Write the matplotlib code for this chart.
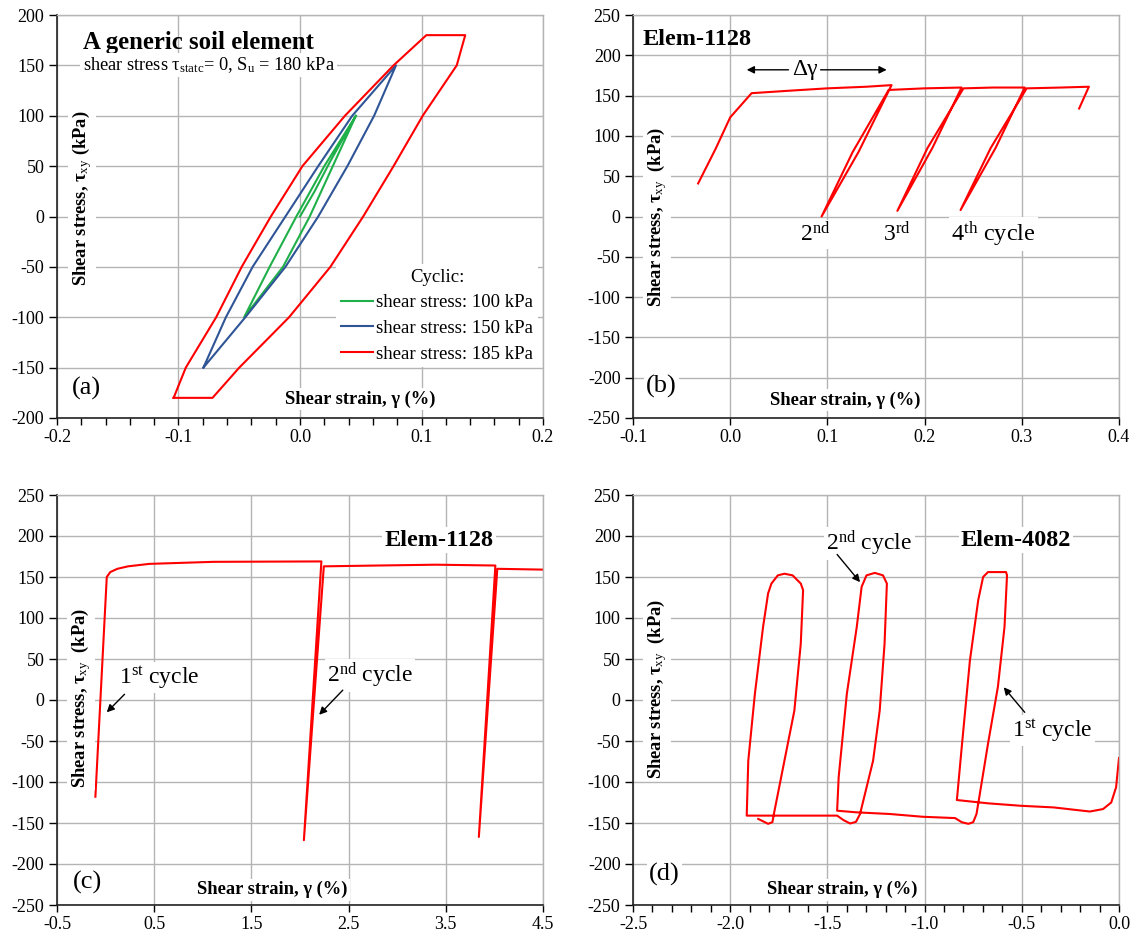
import matplotlib
matplotlib.use('Agg')
import matplotlib.pyplot as plt
from matplotlib.ticker import MultipleLocator, FormatStrFormatter

plt.rcParams['font.family'] = ['Liberation Serif', 'DejaVu Serif']
plt.rcParams['mathtext.fontset'] = 'custom'
plt.rcParams['mathtext.rm'] = 'Liberation Serif'
plt.rcParams['mathtext.it'] = 'Liberation Serif:italic'
plt.rcParams['mathtext.bf'] = 'Liberation Serif:bold'
plt.rcParams['axes.unicode_minus'] = False

# (a) generic soil element, three cyclic amplitudes
loop100_x = [0.0, 0.012, 0.025, 0.046, 0.027, 0.008, -0.014, -0.046, -0.025, -0.003, 0.02, 0.046]
loop100_y = [0, 25, 55, 100, 50, 0, -50, -100, -50, 0, 50, 100]
loop150_x = [-0.0795, -0.061, -0.039, -0.012, 0.015, 0.043, 0.079, 0.061, 0.039, 0.015, -0.012, -0.045, -0.0795]
loop150_y = [-150, -100, -50, 0, 50, 100, 150, 100, 50, 0, -50, -100, -150]
loop185_x = [-0.104, -0.094, -0.069, -0.048, -0.024, 0.002, 0.037, 0.077, 0.104, 0.136,
             0.129, 0.101, 0.077, 0.052, 0.025, -0.009, -0.050, -0.072, -0.104]
loop185_y = [-180, -150, -100, -50, 0, 50, 100, 150, 180, 180,
             150, 100, 50, 0, -50, -100, -150, -180, -180]
legend_labels = ['shear stress: 100 kPa', 'shear stress: 150 kPa', 'shear stress: 185 kPa']

# (b) Elem-1128, small strains
b_x = [-0.033, -0.015, 0.0, 0.022, 0.06, 0.10, 0.14, 0.166, 0.132, 0.094, 0.126, 0.163,
       0.20, 0.238, 0.208, 0.172, 0.203, 0.240, 0.27, 0.303, 0.273, 0.237, 0.268, 0.305,
       0.34, 0.369, 0.359]
b_y = [41, 84, 123, 153, 156, 159, 161, 163, 80, 0, 80, 157,
       159, 160, 85, 7, 85, 159, 160, 160, 85, 8, 85, 159,
       160, 161, 134]

# (c) Elem-1128, large strains
c_x = [-0.105, 0.012, 0.048, 0.121, 0.231, 0.45, 1.11, 2.22, 2.04, 2.245, 2.8, 3.4, 4.01, 3.84, 4.03, 4.5]
c_y = [-118, 150, 156, 160, 163, 166, 168.5, 169, -171, 163, 164, 165, 164, -167, 160, 159]
c_xticks = [-0.5, 0.5, 1.5, 2.5, 3.5, 4.5]

# (d) Elem-4082
d_x = [0.0, -0.015, -0.04, -0.082, -0.15, -0.336, -0.505, -0.674, -0.834,
       -0.809, -0.767, -0.724, -0.699, -0.674, -0.581, -0.576,
       -0.589, -0.623, -0.674, -0.716, -0.733, -0.75, -0.775, -0.809, -0.843,
       -1.01, -1.18, -1.35, -1.45,
       -1.442, -1.40, -1.349, -1.324, -1.299, -1.256, -1.214, -1.194,
       -1.206, -1.231, -1.265, -1.332, -1.353, -1.383, -1.417, -1.45,
       -1.603, -1.772, -1.915,
       -1.907, -1.873, -1.831, -1.805, -1.788, -1.755, -1.721, -1.679, -1.637, -1.625,
       -1.637, -1.67, -1.721, -1.772, -1.783, -1.805, -1.856]
d_y = [-70.7, -106.5, -125, -133, -136, -131, -129, -126, -122,
       -57.6, 48, 122, 150, 156, 156, 152,
       89, 16, -53.6, -114.7, -139, -149, -151, -149, -144,
       -142.4, -139, -137, -135,
       -94, 7.5, 89, 138, 152, 155, 152, 142,
       68.6, -13, -74, -139, -148.6, -150.6, -146.5, -141,
       -141, -141, -141,
       -74, 7.5, 89, 130, 142, 152, 154, 152, 142, 134,
       68.6, -13, -74, -135, -149, -151, -145]

GRID = '#b4b4b4'
WHITE_BOX = dict(facecolor='white', edgecolor='none', pad=1.5)


def setup_axes(ax, xlim, xstep, ylim, ystep, xminor=None, xticks=None, letter='(a)',
               ylab_pos=(0.051, 0.5), xlab_pos=(0.44, 0.04), letter_pos=(0.06, 0.07),
               ylab='Shear stress, τ$_{\\mathrm{xy}}$  (kPa)'):
    ax.set_xlim(*xlim)
    ax.set_ylim(*ylim)
    if xticks is not None:
        ax.set_xticks(xticks)
    else:
        ax.xaxis.set_major_locator(MultipleLocator(xstep))
    ax.yaxis.set_major_locator(MultipleLocator(ystep))
    ax.xaxis.set_major_formatter(FormatStrFormatter('%.1f'))
    ax.yaxis.set_major_formatter(FormatStrFormatter('%d'))
    if xminor:
        ax.xaxis.set_minor_locator(MultipleLocator(xminor))
    ax.tick_params(which='both', direction='out', length=5, width=1, labelsize=13, pad=3)
    ax.tick_params(axis='y', length=6)
    ax.grid(True, which='major', color=GRID, lw=1)
    ax.set_axisbelow(True)
    for s in ('left', 'bottom'):
        ax.spines[s].set_color('#222222')
        ax.spines[s].set_linewidth(1.2)
    for s in ('top', 'right'):
        ax.spines[s].set_color(GRID)
        ax.spines[s].set_linewidth(1)
    ax.text(*ylab_pos, ylab, transform=ax.transAxes, rotation=90, ha='center', va='center',
            fontsize=13.3, fontweight='bold', bbox=WHITE_BOX)
    ax.text(*xlab_pos, 'Shear strain, γ (%)', transform=ax.transAxes, ha='center', va='center',
            fontsize=13.3, fontweight='bold', bbox=WHITE_BOX)
    ax.text(*letter_pos, letter, transform=ax.transAxes, ha='center', va='center',
            fontsize=19, bbox=WHITE_BOX)


def arrow(ax, head, tail):
    ax.annotate('', xy=head, xytext=tail,
                arrowprops=dict(arrowstyle='-|>', color='black', lw=1, mutation_scale=11,
                                shrinkA=0, shrinkB=0))


def main():
    fig = plt.figure(figsize=(11.34, 9.36), dpi=100)
    w = 486 / 1134
    ax_a = fig.add_axes([57 / 1134, 1 - 418 / 936, w, 403 / 936])
    ax_b = fig.add_axes([633 / 1134, 1 - 418 / 936, w, 403 / 936])
    ax_c = fig.add_axes([57 / 1134, 1 - 905 / 936, w, 410 / 936])
    ax_d = fig.add_axes([633 / 1134, 1 - 905 / 936, w, 410 / 936])

    # (a)
    setup_axes(ax_a, (-0.2, 0.2), 0.1, (-200, 200), 50, xminor=0.02, letter='(a)',
               ylab_pos=(0.051, 0.546), xlab_pos=(0.623, 0.047), letter_pos=(0.06, 0.074),
               ylab='Shear stress, τ$_{\\mathrm{xy}}$ (kPa)')
    l1, = ax_a.plot(loop100_x, loop100_y, color='#1fb04a', lw=1.5)
    l2, = ax_a.plot(loop150_x, loop150_y, color='#2f5597', lw=1.5)
    l3, = ax_a.plot(loop185_x, loop185_y, color='#ff0000', lw=1.5)
    leg = ax_a.legend([l1, l2, l3], legend_labels, title='Cyclic:', loc='upper left',
                      bbox_to_anchor=(0.555, 0.405), fontsize=13.5, title_fontsize=13.5,
                      frameon=True, fancybox=False, framealpha=1, borderpad=0.25,
                      handlelength=1.7, handletextpad=0.2, labelspacing=0.45)
    leg.get_frame().set_edgecolor('none')
    ax_a.text(-0.179, 173, 'A generic soil element', ha='left', va='center',
              fontsize=17.8, fontweight='bold')
    ax_a.text(-0.179, 150, 'shear stress τ$_{\\mathrm{statc}}$= 0, S$_{\\mathrm{u}}$ = 180 kPa',
              ha='left', va='center', fontsize=13.2, bbox=WHITE_BOX)

    # (b)
    setup_axes(ax_b, (-0.1, 0.4), 0.1, (-250, 250), 50, letter='(b)',
               ylab_pos=(0.05, 0.50), xlab_pos=(0.437, 0.045), letter_pos=(0.059, 0.078))
    ax_b.plot(b_x, b_y, color='#ff0000', lw=1.5)
    ax_b.text(-0.09, 219, 'Elem-1128', ha='left', va='center', fontsize=17.5, fontweight='bold')
    ax_b.text(0.077, 182, 'Δγ', ha='center', va='center', fontsize=17)
    arrow(ax_b, (0.017, 182), (0.060, 182))
    arrow(ax_b, (0.161, 182), (0.093, 182))
    ax_b.text(0.087, -22, '2$^{\\mathrm{nd}}$', ha='center', va='center', fontsize=17, bbox=WHITE_BOX)
    ax_b.text(0.171, -22, '3$^{\\mathrm{rd}}$', ha='center', va='center', fontsize=17, bbox=WHITE_BOX)
    ax_b.text(0.227, -22, '4$^{\\mathrm{th}}$ cycle', ha='left', va='center', fontsize=17.5,
              bbox=WHITE_BOX)

    # (c)
    setup_axes(ax_c, (-0.5, 4.5), 1.0, (-250, 250), 50, xticks=c_xticks, letter='(c)',
               ylab_pos=(0.049, 0.505), xlab_pos=(0.443, 0.037), letter_pos=(0.063, 0.054))
    ax_c.plot(c_x, c_y, color='#ff0000', lw=1.5)
    ax_c.text(3.43, 195, 'Elem-1128', ha='center', va='center', fontsize=17.5, fontweight='bold',
              bbox=WHITE_BOX)
    ax_c.text(0.14, 27, '1$^{\\mathrm{st}}$ cycle', ha='left', va='center', fontsize=17,
              bbox=WHITE_BOX)
    arrow(ax_c, (0.012, -15), (0.195, 7))
    ax_c.text(2.28, 30, '2$^{\\mathrm{nd}}$ cycle', ha='left', va='center', fontsize=17,
              bbox=WHITE_BOX)
    arrow(ax_c, (2.197, -18), (2.44, 12))

    # (d)
    setup_axes(ax_d, (-2.5, 0.0), 0.5, (-250, 250), 50, xminor=0.1, letter='(d)',
               ylab_pos=(0.05, 0.527), xlab_pos=(0.43, 0.037), letter_pos=(0.064, 0.075))
    ax_d.plot(d_x, d_y, color='#ff0000', lw=1.5)
    ax_d.text(-0.53, 195, 'Elem-4082', ha='center', va='center', fontsize=17.5, fontweight='bold',
              bbox=WHITE_BOX)
    ax_d.text(-1.505, 191, '2$^{\\mathrm{nd}}$ cycle', ha='left', va='center', fontsize=17,
              bbox=WHITE_BOX)
    arrow(ax_d, (-1.332, 143.7), (-1.45, 177.5))
    ax_d.text(-0.548, -37.5, '1$^{\\mathrm{st}}$ cycle', ha='left', va='center', fontsize=17,
              bbox=WHITE_BOX)
    arrow(ax_d, (-0.593, 15.5), (-0.485, -15))

    fig.savefig('out.png', dpi=100)


if __name__ == '__main__':
    main()
